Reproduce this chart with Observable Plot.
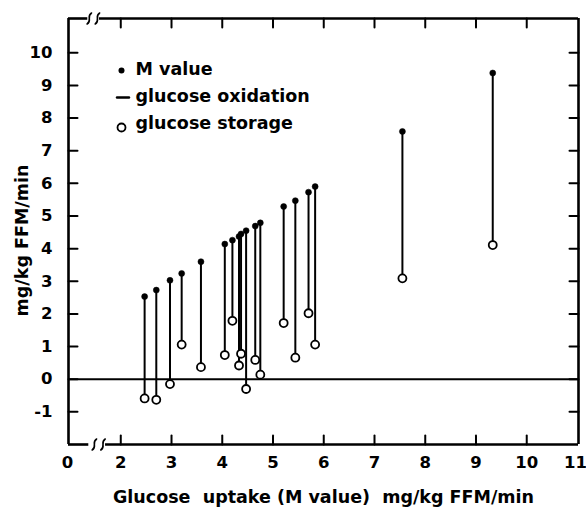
<!DOCTYPE html>
<html>
<head>
<meta charset="utf-8">
<script src="https://cdn.jsdelivr.net/npm/d3@7"></script>
<script src="https://cdn.jsdelivr.net/npm/@observablehq/plot@0.6"></script>
<style>
  html, body { margin: 0; padding: 0; background: #fff; }
  svg { display: block; }
</style>
</head>
<body>
<div id="chart"></div>
<script>
// ---- data ----
const mValueX   = [2.47, 2.70, 2.97, 3.20, 3.58, 4.05, 4.20, 4.33, 4.37, 4.47, 4.65, 4.75, 5.21, 5.44, 5.70, 5.83, 7.55, 9.33];
const mValueY   = [2.53, 2.73, 3.03, 3.24, 3.60, 4.14, 4.26, 4.37, 4.45, 4.55, 4.69, 4.79, 5.29, 5.47, 5.73, 5.90, 7.59, 9.38];
const storageY  = [-0.59, -0.63, -0.15, 1.06, 0.37, 0.74, 1.79, 0.42, 0.78, -0.30, 0.59, 0.14, 1.72, 0.66, 2.02, 1.06, 3.09, 4.11];

const xTicks = [2, 3, 4, 5, 6, 7, 8, 9, 10];
const xTickLabels = [2, 3, 4, 5, 6, 7, 8, 9, 10];
const lastXLabel = 11;
const yTicks = [-1, 0, 1, 2, 3, 4, 5, 6, 7, 8, 9, 10];
const xDomain = [0.97, 11.02];
const yDomain = [-2, 11.05];
const zeroLabel = "0";
const breaksBottom = [1.48, 1.65];
const breaksTop = [1.38, 1.54];
const gapBottom = [1.37, 1.70];
const gapTop = [1.35, 1.58];

const legendLabels = ["M value", "glucose oxidation", "glucose storage"];
const xLabel = "Glucose  uptake (M value)  mg/kg FFM/min";
const yLabel = "mg/kg FFM/min";

const rows = mValueX.map((x, i) => ({x, m: mValueY[i], s: storageY[i]}));

const [x0, x1] = xDomain;
const [y0, y1] = yDomain;
const font = "DejaVu Sans";
const tickFs = 16.5;
const labelFs = 17.5;

const tickShape = {draw(ctx, l) { ctx.moveTo(0, 0); ctx.lineTo(0, -l); }};
const breakShape = {draw(ctx, l) { ctx.moveTo(-2.2, 5.5); ctx.bezierCurveTo(3.2, 2, -3.2, -2, 2.2, -5.5); }};
const dashShape = {draw(ctx, l) { ctx.moveTo(-l / 2, 0); ctx.lineTo(l / 2, 0); }};

const tickOpts = {length: 9, anchor: "start", shape: tickShape, stroke: "#000", strokeWidth: 2};
const txt = {fontWeight: "bold", fill: "#000", fontFamily: font};

const chart = Plot.plot({
  width: 586,
  height: 509,
  marginLeft: 68,
  marginRight: 8,
  marginTop: 18,
  marginBottom: 65,
  x: {domain: xDomain, axis: null},
  y: {domain: yDomain, axis: null},
  style: {fontFamily: font, background: "#fff"},
  marks: [
    // zero line
    Plot.ruleY([0], {stroke: "#000", strokeWidth: 2}),
    // frame (with axis breaks)
    Plot.ruleX([x0, x1], {stroke: "#000", strokeWidth: 2.6}),
    Plot.ruleY([y0], {x1: x0, x2: gapBottom[0], stroke: "#000", strokeWidth: 2.6}),
    Plot.ruleY([y0], {x1: gapBottom[1], x2: x1, stroke: "#000", strokeWidth: 2.6}),
    Plot.ruleY([y1], {x1: x0, x2: gapTop[0], stroke: "#000", strokeWidth: 2.6}),
    Plot.ruleY([y1], {x1: gapTop[1], x2: x1, stroke: "#000", strokeWidth: 2.6}),
    Plot.vector(breaksBottom, {x: d => d, y: y0, length: 10, anchor: "start", shape: breakShape, stroke: "#000", strokeWidth: 1.6}),
    Plot.vector(breaksTop, {x: d => d, y: y1, length: 10, anchor: "start", shape: breakShape, stroke: "#000", strokeWidth: 1.6}),
    // inward ticks
    Plot.vector(xTicks, {x: d => d, y: y0, rotate: 0, ...tickOpts}),
    Plot.vector(xTicks, {x: d => d, y: y1, rotate: 180, ...tickOpts}),
    Plot.vector(yTicks, {x: x0, y: d => d, rotate: 90, ...tickOpts}),
    Plot.vector(yTicks, {x: x1, y: d => d, rotate: -90, ...tickOpts}),
    // tick labels
    Plot.text(xTickLabels, {x: d => d, y: y0, dy: 18, text: d => String(d), fontSize: tickFs, ...txt}),
    Plot.text([lastXLabel], {x: x1, y: y0, dy: 18, dx: -3, text: d => String(d), fontSize: tickFs, ...txt}),
    Plot.text([zeroLabel], {x: x0, y: y0, dy: 18, dx: -1, text: d => d, fontSize: tickFs, ...txt}),
    Plot.text(yTicks, {x: x0, y: d => d, dx: -16, textAnchor: "end", text: d => String(d), fontSize: tickFs, ...txt}),
    // axis titles
    Plot.text([xLabel], {frameAnchor: "bottom", dy: 53, textAnchor: "middle", lineAnchor: "middle", text: d => d, fontSize: labelFs, ...txt}),
    Plot.text([yLabel], {frameAnchor: "left", dx: -46, dy: 9, rotate: -90, textAnchor: "middle", lineAnchor: "middle", text: d => d, fontSize: labelFs, ...txt}),
    // data: glucose oxidation stems
    Plot.ruleX(rows, {x: "x", y1: "s", y2: "m", stroke: "#000", strokeWidth: 2}),
    // M value dots
    Plot.dot(rows, {x: "x", y: "m", r: 3, fill: "#000", stroke: "#000", strokeWidth: 0.5}),
    // glucose storage circles
    Plot.dot(rows, {x: "x", y: "s", r: 4, fill: "#fff", stroke: "#000", strokeWidth: 1.8}),
    // legend
    Plot.dot([0], {frameAnchor: "top-left", dx: 53, dy: 52, r: 3, fill: "#000"}),
    Plot.vector([0], {frameAnchor: "top-left", dx: 54.5, dy: 79, length: 12, anchor: "start", shape: dashShape, stroke: "#000", strokeWidth: 2.4}),
    Plot.dot([0], {frameAnchor: "top-left", dx: 53, dy: 109, r: 4, fill: "#fff", stroke: "#000", strokeWidth: 1.8}),
    Plot.text([legendLabels[0]], {frameAnchor: "top-left", dx: 67, dy: 51, textAnchor: "start", lineAnchor: "middle", text: d => d, fontSize: labelFs, ...txt}),
    Plot.text([legendLabels[1]], {frameAnchor: "top-left", dx: 67, dy: 78, textAnchor: "start", lineAnchor: "middle", text: d => d, fontSize: labelFs, ...txt}),
    Plot.text([legendLabels[2]], {frameAnchor: "top-left", dx: 67, dy: 105, textAnchor: "start", lineAnchor: "middle", text: d => d, fontSize: labelFs, ...txt})
  ]
});
document.getElementById("chart").appendChild(chart);
</script>
</body>
</html>
